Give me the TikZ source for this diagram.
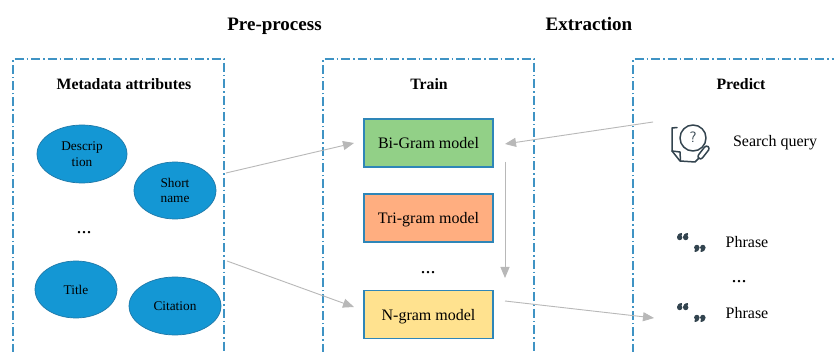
\documentclass[tikz,border=0pt]{standalone}
\usepackage{fontspec}
\setmainfont{Liberation Serif}
\usetikzlibrary{shapes.geometric,arrows.meta}
\definecolor{dashblue}{HTML}{3F93C4}
\definecolor{ellfill}{HTML}{1497D4}
\definecolor{ellline}{HTML}{1F78A8}
\definecolor{boxline}{HTML}{2E86B8}
\definecolor{arrowgrey}{HTML}{B8B8B8}
\definecolor{icondark}{HTML}{33444F}
\newcommand{\lowertext}[1]{\raisebox{-1.2pt}{#1}}
\tikzset{
  x=1pt,y=-1pt,
  panel/.style={draw=dashblue,line width=1.1pt,dash pattern=on 9pt off 3pt on 1.4pt off 3pt},
  heading/.style={font=\fontsize{19}{21}\selectfont\bfseries,text=black,inner sep=0pt,anchor=base},
  subheading/.style={font=\fontsize{15.8}{18}\selectfont\bfseries,text=black,inner sep=0pt,anchor=base},
  body/.style={font=\fontsize{16}{18}\selectfont,text=black,inner sep=0pt,anchor=base},
  dotrow/.style={font=\fontsize{20}{20}\selectfont,text=black,inner sep=0pt,anchor=base},
  blob/.style={ellipse,draw=ellline,fill=ellfill,line width=.7pt,inner sep=0pt,align=center,
    font=\fontsize{13.3}{15.8}\selectfont,text=black},
  model/.style={rectangle,draw=boxline,line width=1.1pt,minimum width=129pt,minimum height=48pt,
    inner sep=0pt,text height=12pt,text depth=0pt,font=\fontsize{16}{18}\selectfont,text=black},
  flow/.style={draw=arrowgrey,line width=.9pt,-{Triangle[length=11pt,width=9pt,fill=arrowgrey]}},
  sixes/.pic={
    \foreach \dx in {0,6}{
      \fill[icondark,xshift=\dx pt] (2.7,4.5) circle[radius=2.7];
      \fill[icondark,xshift=\dx pt] (0,4.5) .. controls (0,2) and (1.6,0.2) .. (4.8,0) -- (5,1.3)
        .. controls (4,1.8) and (3.6,2.4) .. (3.6,4) -- cycle;
    }
  },
}
\begin{document}
\begin{tikzpicture}
\useasboundingbox (0,0) rectangle (834,352);
\fill[white] (0,0) rectangle (834,352);

\node[heading] (preprocess) at (274.5,31) {Pre-process};
\node[heading] (extraction) at (589,31) {Extraction};

\draw[panel] (13,352.5) -- (13,59) -- (224,59) -- (224,352.5) -- cycle;
\draw[panel] (323,352.5) -- (323,59) -- (534,59) -- (534,352.5) -- cycle;
\draw[panel] (633,352.5) -- (633,59) -- (834,59);

\node[subheading] (meta) at (124,90) {Metadata attributes};
\node[subheading] (train) at (429,90) {Train};
\node[subheading] (predict) at (741,90) {Predict};

\node[blob,minimum width=90pt,minimum height=58pt] (descr) at (82,154) {\lowertext{Descrip}\\\lowertext{tion}};
\node[blob,minimum width=82pt,minimum height=57pt] (short) at (175,190.5) {\lowertext{Short}\\\lowertext{name}};
\node[blob,minimum width=82pt,minimum height=57pt] (title) at (76,289.5) {\lowertext{Title}};
\node[blob,minimum width=92pt,minimum height=58pt] (cite) at (175,306) {\lowertext{Citation}};
\node[dotrow] (dotsA) at (84,233.5) {...};

\node[model,fill={rgb,255:red,146;green,208;blue,135}] (bi) at (428.5,143) {Bi-Gram model};
\node[model,fill={rgb,255:red,255;green,174;blue,128}] (tri) at (428.5,218) {Tri-gram model};
\node[dotrow] (dotsB) at (428,273) {...};
\node[model,fill={rgb,255:red,255;green,226;blue,143}] (ngram) at (428.5,314.5) {N-gram model};

\coordinate (metaoutA) at (226,173);
\coordinate (metaoutB) at (227,261);
\coordinate (bientry) at (354,143);
\coordinate (nentry) at (354,307);
\coordinate (queryout) at (653,122);
\coordinate (biback) at (505,144);
\coordinate (bidown) at (505,162);
\coordinate (ndown) at (505,278);
\coordinate (nout) at (505,301);
\coordinate (phrasein) at (654,318);
\draw[flow] (metaoutA) -- (bientry);
\draw[flow] (metaoutB) -- (nentry);
\draw[flow] (queryout) -- (biback);
\draw[flow] (bidown) -- (ndown);
\draw[flow] (nout) -- (phrasein);

% search-query icon
\begin{scope}[draw=icondark,line width=1.5pt,line cap=round,line join=round]
  \draw (677,127.5) -- (672,128) -- (672,151) -- (680,161) -- (695,162) -- (699,158);
  \draw (672,151) -- (680,152) -- (680.5,161);
  \draw (693,138) circle[radius=13];
  \draw[rotate around={52:(703.5,152.5)},rounded corners=2.6pt] (696,150) rectangle (711,155);
\end{scope}
\node[font=\fontsize{15}{16}\selectfont\sffamily,text=icondark,inner sep=0pt] (qmark) at (693,137) {?};
\node[body] (query) at (775,147) {Search query};

\pic at (677,233) {sixes};
\pic[rotate=180] at (705.5,252) {sixes};
\node[body] (phrase1) at (747,248) {Phrase};
\node[dotrow] (dotsC) at (739,283) {...};
\pic at (677,303) {sixes};
\pic[rotate=180] at (705.5,322) {sixes};
\node[body] (phrase2) at (747,318) {Phrase};
\end{tikzpicture}
\end{document}
